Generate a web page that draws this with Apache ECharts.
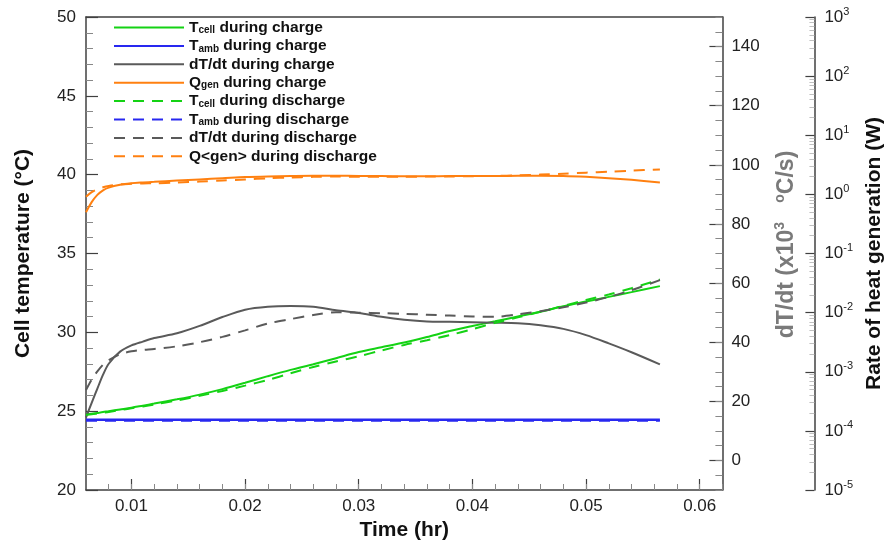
<!DOCTYPE html>
<html>
<head>
<meta charset="utf-8">
<script src="https://cdn.jsdelivr.net/npm/echarts@6/dist/echarts.min.js"></script>
<style>
  html, body { margin: 0; padding: 0; background: #fff; }
  #main { width: 893px; height: 546px; }
</style>
</head>
<body>
<div id="main"></div>
<script>
// time in hours
var time = [0.006, 0.0065, 0.007, 0.0075, 0.008, 0.009, 0.010, 0.011, 0.012, 0.014, 0.016,
    0.018, 0.020, 0.022, 0.024, 0.026, 0.028, 0.030, 0.032, 0.034, 0.036, 0.038, 0.040,
    0.042, 0.044, 0.046, 0.048, 0.050, 0.052, 0.054, 0.0565];

// cell temperature (deg C)
var tcellCharge = [24.80, 24.84, 24.89, 24.94, 25.00, 25.11, 25.22, 25.35, 25.48, 25.75, 26.05,
    26.40, 26.80, 27.22, 27.62, 27.98, 28.36, 28.75, 29.05, 29.35, 29.70, 30.08, 30.40,
    30.70, 31.00, 31.30, 31.65, 31.95, 32.25, 32.55, 32.93];
var tcellDischarge = [24.76, 24.80, 24.85, 24.90, 24.95, 25.07, 25.18, 25.30, 25.42, 25.68, 25.97,
    26.28, 26.62, 26.98, 27.40, 27.80, 28.15, 28.48, 28.85, 29.20, 29.50, 29.82, 30.20,
    30.60, 30.95, 31.30, 31.68, 32.05, 32.40, 32.80, 33.35];

// ambient temperature (deg C)
var tambTime = [0.006, 0.0565];
var tambCharge = [24.45, 24.45];
var tambDischarge = [24.40, 24.40];

// dT/dt (x10^3 C/s)
var dtdtCharge = [14.5, 19.5, 24.3, 29.0, 32.7, 36.8, 38.9, 40.2, 41.4, 43.0, 45.5,
    48.5, 51.0, 52.0, 52.25, 52.0, 50.8, 49.9, 48.6, 47.6, 47.0, 46.9, 46.75,
    46.6, 46.4, 45.7, 44.5, 42.4, 39.6, 36.6, 32.5];
var dtdtDischarge = [23.8, 27.3, 30.1, 32.4, 33.9, 35.9, 36.9, 37.4, 37.7, 38.6, 40.0,
    41.8, 44.0, 46.3, 47.8, 49.2, 50.1, 50.0, 49.8, 49.6, 49.3, 49.0, 48.7,
    48.6, 49.4, 50.5, 51.8, 53.4, 55.3, 57.6, 61.0];

// heat generation (W)
var qgenCharge = [0.50, 0.74, 0.98, 1.17, 1.30, 1.45, 1.54, 1.59, 1.63, 1.71, 1.79,
    1.87, 1.96, 2.01, 2.04, 2.06, 2.06, 2.05, 2.04, 2.03, 2.03, 2.04, 2.05,
    2.05, 2.06, 2.07, 2.05, 1.98, 1.88, 1.76, 1.59];
var qgenDischarge = [0.91, 1.09, 1.22, 1.32, 1.39, 1.48, 1.51, 1.53, 1.54, 1.58, 1.65,
    1.72, 1.79, 1.87, 1.93, 1.98, 2.00, 1.99, 1.99, 1.99, 2.00, 2.01, 2.03,
    2.05, 2.10, 2.16, 2.24, 2.33, 2.42, 2.52, 2.64];

// tick values
var xTicks = [0.01, 0.02, 0.03, 0.04, 0.05, 0.06];
var dtdtTicks = [0, 20, 40, 60, 80, 100, 120, 140];
var logTicks = [1e-5, 1e-4, 1e-3, 1e-2, 1e-1, 1e0, 1e1, 1e2, 1e3];

var xMinorTicks = [];
for (var i = 4; i <= 31; i++) xMinorTicks.push(i * 0.002);
var logMinorTicks = [];
for (var d = -5; d < 3; d++) {
    for (var k = 2; k <= 9; k++) logMinorTicks.push(k * Math.pow(10, d));
}

function pairs(xs, ys) {
    return xs.map(function (x, i) { return [x, ys[i]]; });
}

var axisColor = '#404040';
var green = '#14d214', blue = '#2828f0', gray = '#5a5a5a', orange = '#ff8010';
var dash = [11, 8];
var nameFont = { fontSize: 21, fontWeight: 'bold', color: '#111' };

var legendText = {
    'Tcell during charge': '{m|T}{s|cell}{m| during charge}',
    'Tamb during charge': '{m|T}{s|amb}{m| during charge}',
    'dT/dt during charge': '{m|dT/dt during charge}',
    'Qgen during charge': '{m|Q}{s|gen}{m| during charge}',
    'Tcell during discharge': '{m|T}{s|cell}{m| during discharge}',
    'Tamb during discharge': '{m|T}{s|amb}{m| during discharge}',
    'dT/dt during discharge': '{m|dT/dt during discharge}',
    'Q<gen> during discharge': '{m|Q<gen> during discharge}'
};

var myChart = echarts.init(document.getElementById('main'));

var option = {
    animation: false,
    textStyle: { fontFamily: 'Liberation Sans, Arial, sans-serif' },
    grid: { left: 86, right: 161, top: 17, bottom: 56 },
    legend: {
        orient: 'vertical',
        left: 113,
        top: 19.5,
        padding: 0,
        itemWidth: 70,
        itemHeight: 14,
        itemGap: 2.4,
        itemStyle: { opacity: 0 },
        formatter: function (name) { return legendText[name]; },
        textStyle: {
            rich: {
                m: { fontSize: 15.5, fontWeight: 'bold', color: '#111', lineHeight: 16 },
                s: { fontSize: 10, fontWeight: 'bold', color: '#111', lineHeight: 8, verticalAlign: 'bottom' }
            }
        }
    },
    xAxis: [
        {
            type: 'value', min: 0.006, max: 0.062, position: 'bottom',
            name: 'Time (hr)', nameLocation: 'middle', nameGap: 26, nameTextStyle: nameFont,
            axisLine: { show: true, onZero: false, lineStyle: { color: axisColor, width: 1.5 } },
            axisTick: { show: true, inside: true, length: 11, customValues: xTicks, lineStyle: { color: axisColor, width: 1.2 } },
            axisLabel: { customValues: xTicks, fontSize: 17, color: '#222', margin: 8,
                formatter: function (v) { return v.toFixed(2); } },
            splitLine: { show: false }
        },
        {
            type: 'value', min: 0.006, max: 0.062, position: 'bottom', offset: 0,
            axisLine: { show: false, onZero: false },
            axisTick: { show: true, inside: true, length: 6, customValues: xMinorTicks, lineStyle: { color: '#888', width: 1 } },
            axisLabel: { show: false },
            splitLine: { show: false }
        },
        {
            type: 'value', min: 0.006, max: 0.062, position: 'top',
            axisLine: { show: true, onZero: false, lineStyle: { color: axisColor, width: 1.5 } },
            axisTick: { show: false }, axisLabel: { show: false }, splitLine: { show: false }
        }
    ],
    yAxis: [
        {
            type: 'value', min: 20, max: 50, interval: 5, position: 'left',
            name: 'Cell temperature (°C)', nameLocation: 'middle', nameGap: 52, nameRotate: 90,
            nameTextStyle: nameFont,
            axisLine: { show: true, onZero: false, lineStyle: { color: axisColor, width: 1.5 } },
            axisTick: { show: true, inside: true, length: 12, lineStyle: { color: axisColor, width: 1.2 } },
            minorTick: { show: true, splitNumber: 5, length: 7, lineStyle: { color: '#888', width: 1 } },
            axisLabel: { fontSize: 17, color: '#222', margin: 10 },
            splitLine: { show: false }
        },
        {
            type: 'value', min: -10, max: 150, position: 'right', offset: 0,
            name: '{n|dT/dt (x10}{p|3}{n|   }{p|o}{n|C/s)}', nameLocation: 'middle', nameGap: 51, nameRotate: 90,
            nameTextStyle: {
                padding: [0, 0, 0, 18],
                rich: {
                    n: { fontSize: 23, fontWeight: 'bold', color: '#7a7a7a', lineHeight: 26 },
                    p: { fontSize: 14, fontWeight: 'bold', color: '#7a7a7a', lineHeight: 14, verticalAlign: 'top' }
                }
            },
            axisLine: { show: true, onZero: false, lineStyle: { color: axisColor, width: 1.5 } },
            axisTick: { show: true, inside: true, length: 13, customValues: dtdtTicks, lineStyle: { color: axisColor, width: 1.2 } },
            axisLabel: { customValues: dtdtTicks, fontSize: 17, color: '#222', margin: 9 },
            splitLine: { show: false }
        },
        {
            type: 'value', min: -10, max: 150, interval: 5, position: 'right', offset: 0,
            axisLine: { show: false, onZero: false },
            axisTick: { show: true, inside: true, length: 7, lineStyle: { color: '#888', width: 1 } },
            axisLabel: { show: false },
            splitLine: { show: false }
        },
        {
            type: 'log', logBase: 10, min: 1e-5, max: 1e3, position: 'right', offset: 92,
            name: 'Rate of heat generation (W)', nameLocation: 'middle', nameGap: 41, nameRotate: 90,
            nameTextStyle: nameFont,
            axisLine: { show: true, onZero: false, lineStyle: { color: axisColor, width: 1.5 } },
            axisTick: { show: true, inside: true, length: 9, customValues: logTicks, lineStyle: { color: axisColor, width: 1.2 } },
            axisLabel: {
                customValues: logTicks, margin: 10,
                formatter: function (v) {
                    return '{b|10}{p|' + Math.round(Math.log10(v)) + '}';
                },
                rich: {
                    b: { fontSize: 17, color: '#222', lineHeight: 22 },
                    p: { fontSize: 11, color: '#222', lineHeight: 11, verticalAlign: 'top' }
                }
            },
            splitLine: { show: false }
        },
        {
            type: 'log', logBase: 10, min: 1e-5, max: 1e3, position: 'right', offset: 92,
            axisLine: { show: false, onZero: false },
            axisTick: { show: true, inside: true, length: 5, customValues: logMinorTicks, lineStyle: { color: '#c0c0c0', width: 1 } },
            axisLabel: { show: false },
            splitLine: { show: false }
        }
    ],
    series: [
        { name: 'Tcell during charge', type: 'line', yAxisIndex: 0, data: pairs(time, tcellCharge),
          symbol: 'none', smooth: 0.3, lineStyle: { color: green, width: 2 }, itemStyle: { color: green } },
        { name: 'Tamb during charge', type: 'line', yAxisIndex: 0, data: pairs(tambTime, tambCharge),
          symbol: 'none', lineStyle: { color: blue, width: 2.5 }, itemStyle: { color: blue } },
        { name: 'dT/dt during charge', type: 'line', yAxisIndex: 1, data: pairs(time, dtdtCharge),
          symbol: 'none', smooth: 0.3, lineStyle: { color: gray, width: 2 }, itemStyle: { color: gray } },
        { name: 'Qgen during charge', type: 'line', yAxisIndex: 3, data: pairs(time, qgenCharge),
          symbol: 'none', smooth: 0.3, lineStyle: { color: orange, width: 2 }, itemStyle: { color: orange } },
        { name: 'Tcell during discharge', type: 'line', yAxisIndex: 0, data: pairs(time, tcellDischarge),
          symbol: 'none', smooth: 0.3, lineStyle: { color: green, width: 2, type: dash }, itemStyle: { color: green } },
        { name: 'Tamb during discharge', type: 'line', yAxisIndex: 0, data: pairs(tambTime, tambDischarge),
          symbol: 'none', lineStyle: { color: blue, width: 2, type: dash }, itemStyle: { color: blue } },
        { name: 'dT/dt during discharge', type: 'line', yAxisIndex: 1, data: pairs(time, dtdtDischarge),
          symbol: 'none', smooth: 0.3, lineStyle: { color: gray, width: 2, type: dash }, itemStyle: { color: gray } },
        { name: 'Q<gen> during discharge', type: 'line', yAxisIndex: 3, data: pairs(time, qgenDischarge),
          symbol: 'none', smooth: 0.3, lineStyle: { color: orange, width: 2, type: dash }, itemStyle: { color: orange } }
    ]
};

myChart.setOption(option);
</script>
</body>
</html>
